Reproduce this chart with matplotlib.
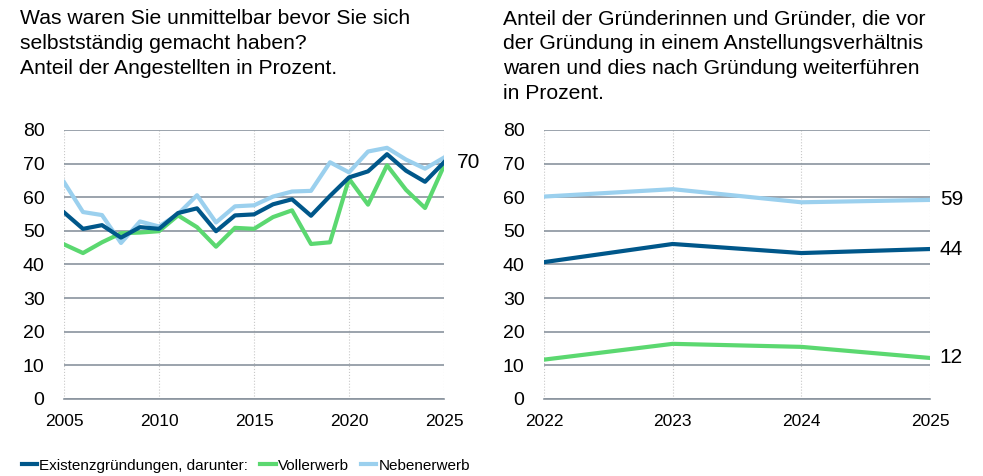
import numpy as np
import matplotlib
matplotlib.use('Agg')
import matplotlib.pyplot as plt

plt.rcParams['font.family'] = ['Liberation Sans', 'DejaVu Sans']

# ── DATA ─────────────────────────────────────────────────────────────────────
years_left = list(range(2005, 2026))
existenz_left = [55.5, 50.6, 51.7, 48.0, 51.1, 50.6, 55.3, 56.7, 49.9, 54.6, 54.9,
                 57.9, 59.4, 54.5, 60.4, 65.9, 67.7, 72.8, 67.9, 64.6, 70.4]
voll_left = [46.0, 43.4, 46.6, 49.3, 49.5, 49.9, 54.6, 51.1, 45.3, 50.9, 50.6,
             54.1, 56.1, 46.1, 46.6, 65.5, 57.8, 69.5, 62.2, 56.8, 69.4]
neben_left = [64.5, 55.6, 54.7, 46.4, 52.8, 51.3, 55.0, 60.6, 52.5, 57.3, 57.6,
              60.2, 61.7, 61.9, 70.4, 67.4, 73.6, 74.7, 71.2, 68.5, 71.8]

years_right = [2022, 2023, 2024, 2025]
existenz_right = [40.7, 46.1, 43.4, 44.6]
voll_right = [11.7, 16.4, 15.5, 12.2]
neben_right = [60.2, 62.4, 58.5, 59.2]

label_left = '70'
labels_right = ['59', '44', '12']

title_left = ('Was waren Sie unmittelbar bevor Sie sich\n'
              'selbstständig gemacht haben?\n'
              'Anteil der Angestellten in Prozent.')
title_right = ('Anteil der Gründerinnen und Gründer, die vor\n'
               'der Gründung in einem Anstellungsverhältnis\n'
               'waren und dies nach Gründung weiterführen\n'
               'in Prozent.')

series_names = ['Existenzgründungen, darunter:', 'Vollerwerb', 'Nebenerwerb']

# ── STYLE ────────────────────────────────────────────────────────────────────
c_dark = '#00578a'
c_green = '#5bd870'
c_light = '#9bd0ee'
c_grid = '#8a949e'

fig = plt.figure(figsize=(9.83, 4.76), dpi=100)
ax1 = fig.add_axes([0.0651, 0.1618, 0.3866, 0.5651])
ax2 = fig.add_axes([0.5534, 0.1618, 0.3927, 0.5651])


def style_axis(ax, xticks):
    ax.set_ylim(0, 80)
    ax.set_yticks(range(0, 81, 10))
    ax.set_xticks(xticks)
    ax.set_xlim(xticks[0], xticks[-1])
    for s in ['top', 'right', 'left']:
        ax.spines[s].set_visible(False)
    ax.spines['bottom'].set_color(c_grid)
    ax.spines['bottom'].set_linewidth(1.2)
    ax.grid(axis='y', color=c_grid, lw=1.2)
    ax.grid(axis='x', color='#c8c8c8', lw=0.8, linestyle=':')
    ax.set_axisbelow(True)
    ax.tick_params(axis='y', length=0, pad=14, labelsize=14)
    ax.tick_params(axis='x', length=0, pad=11, labelsize=12.5)


# Left panel
ax1.plot(years_left, existenz_left, color=c_dark, lw=3, zorder=4, label=series_names[0])
ax1.plot(years_left, voll_left, color=c_green, lw=3, zorder=3, label=series_names[1])
ax1.plot(years_left, neben_left, color=c_light, lw=3, zorder=2, label=series_names[2])
style_axis(ax1, [2005, 2010, 2015, 2020, 2025])
ax1.annotate(label_left, xy=(years_left[-1], existenz_left[-1]), xytext=(9, 0),
             textcoords='offset points', va='center', fontsize=15, clip_on=False)
ax1.text(-0.116, 1.449, title_left, transform=ax1.transAxes, fontsize=15.2,
         va='top', ha='left', linespacing=1.4)

# Right panel
ax2.plot(years_right, existenz_right, color=c_dark, lw=3, zorder=4)
ax2.plot(years_right, voll_right, color=c_green, lw=3, zorder=3)
ax2.plot(years_right, neben_right, color=c_light, lw=3, zorder=2)
style_axis(ax2, years_right)
for vals, lab in zip([neben_right, existenz_right, voll_right], labels_right):
    ax2.annotate(lab, xy=(years_right[-1], vals[-1]), xytext=(7, 0),
                 textcoords='offset points', va='center', fontsize=15, clip_on=False)
ax2.text(-0.106, 1.449, title_right, transform=ax2.transAxes, fontsize=15.2,
         va='top', ha='left', linespacing=1.4)

fig.legend(loc='lower left', bbox_to_anchor=(0.008, -0.022), ncol=3, frameon=False,
           handlelength=1.0, handletextpad=0.15, columnspacing=0.8,
           prop={'size': 11})

plt.savefig('out.png', dpi=100)
